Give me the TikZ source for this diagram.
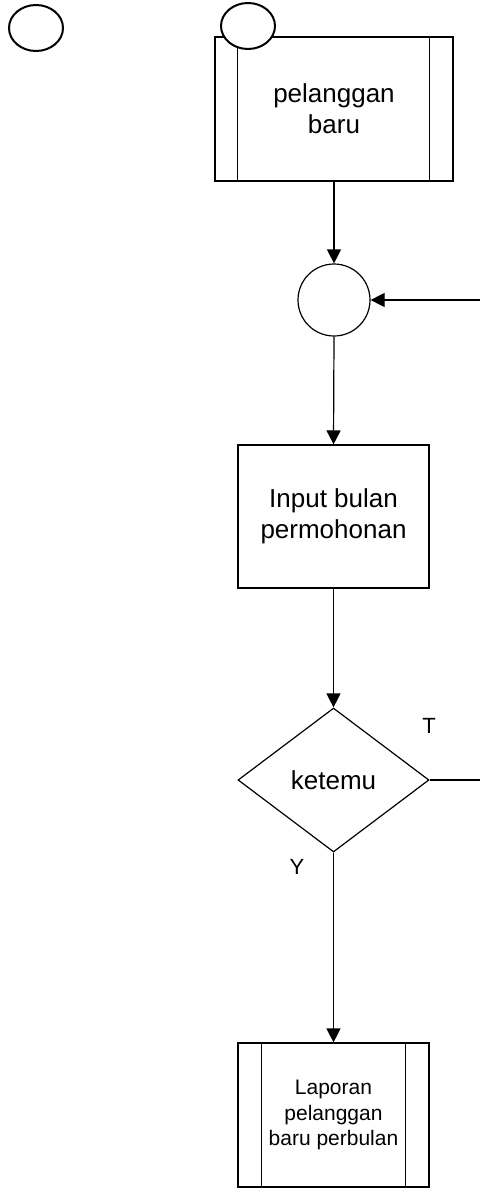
\documentclass[tikz,border=0pt]{standalone}
\usepackage{fontspec}
\setmainfont{Liberation Sans}
\usetikzlibrary{shapes.geometric,arrows.meta}
\begin{document}
\begin{tikzpicture}[x=0.5pt,y=-0.5pt,
  line width=0.6pt,
  conn/.style={-{Triangle[length=7pt,width=7pt]}},
  box/.style={draw,rectangle,inner sep=0pt,align=center,font=\fontsize{13pt}{15.5pt}\selectfont},
  term/.style={draw,ellipse,line width=1pt,minimum width=27pt,minimum height=23pt,inner sep=0pt},
  lbl/.style={font=\fontsize{11pt}{13pt}\selectfont,inner sep=0pt}]
\useasboundingbox (0,0) rectangle (480,1188);
\node[term] (e1) at (36,28) {};
\node[box,minimum width=119pt,minimum height=72pt] (p) at (334,109) {pelanggan\\baru};
\draw ([xshift=11.5pt]p.north west) -- ([xshift=11.5pt]p.south west);
\draw ([xshift=-12pt]p.north east) -- ([xshift=-12pt]p.south east);
\node[term,fill=white] (e2) at (248,26) {};
\node[draw,circle,minimum size=36pt,inner sep=0pt] (c) at (334,300) {};
\node[box,minimum width=95.5pt,minimum height=71.5pt] (in) at (333.5,516.5) {Input bulan\\permohonan};
\node[draw,diamond,minimum width=95.5pt,minimum height=72pt,inner sep=0pt,font=\fontsize{13pt}{15.5pt}\selectfont] (d) at (333.5,780) {ketemu};
\node[box,minimum width=95.5pt,minimum height=72pt,font=\fontsize{10.5pt}{12.6pt}\selectfont] (l) at (333.5,1115) {Laporan\\pelanggan\\baru perbulan};
\draw ([xshift=12pt]l.north west) -- ([xshift=12pt]l.south west);
\draw ([xshift=-12pt]l.north east) -- ([xshift=-12pt]l.south east);
\coordinate (r1) at (480,300);
\coordinate (r2) at (480,780);
\draw[conn] (p.south) -- (c.north);
\draw[conn] (r1) -- (c.east);
\draw[conn] (c.south) -- (in.north);
\draw[conn] (in.south) -- (d.north);
\draw (d.east) -- (r2);
\draw[conn] (d.south) -- (l.north);
\node[lbl] (t) at (429,726) {T};
\node[lbl] (y) at (297,867) {Y};
\end{tikzpicture}
\end{document}
